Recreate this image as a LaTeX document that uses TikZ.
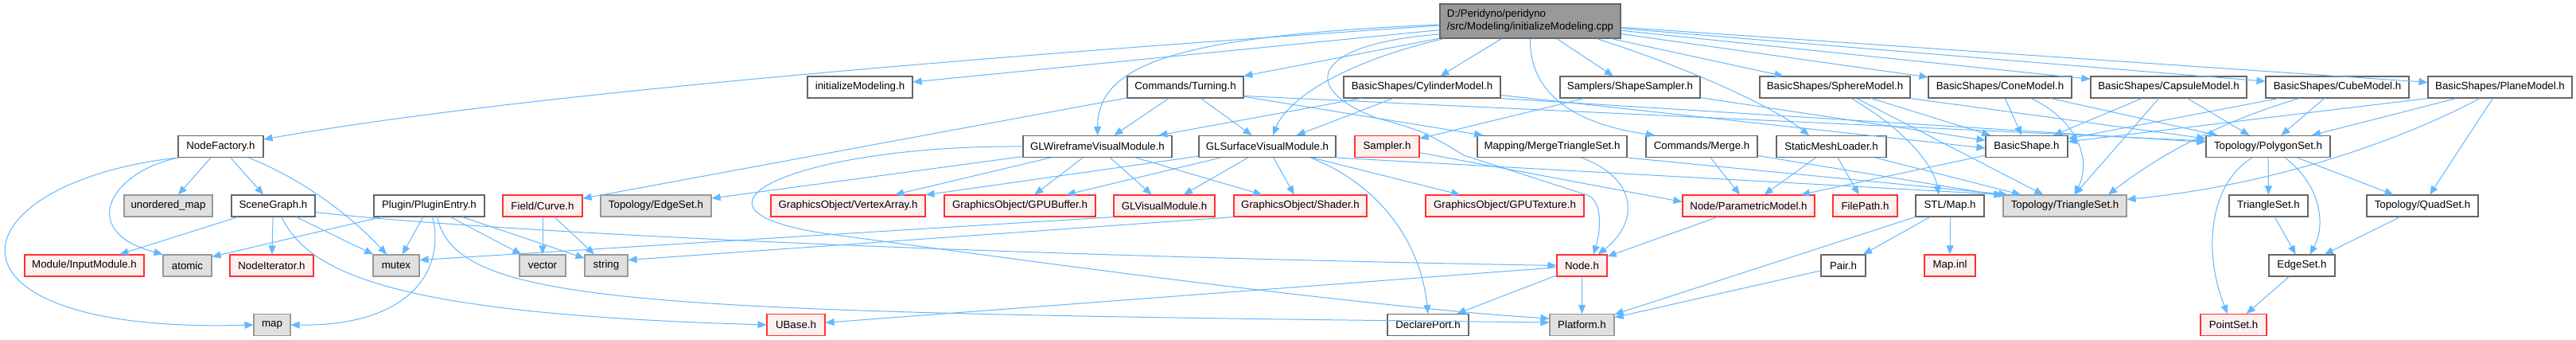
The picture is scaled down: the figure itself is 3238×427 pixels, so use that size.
\documentclass[tikz,border=0pt]{standalone}
\usepackage{fontspec}
\setmainfont{Liberation Sans}
\usetikzlibrary{arrows.meta}
\definecolor{edgeblue}{HTML}{63B8FF}
\definecolor{bord}{HTML}{666666}
\definecolor{graybord}{HTML}{999999}
\definecolor{grayfill}{HTML}{E0E0E0}
\definecolor{redfill}{HTML}{FFF0F0}
\definecolor{redbord}{HTML}{FF3030}
\definecolor{rootfill}{HTML}{999999}
\begin{document}
\begin{tikzpicture}[x=1pt,y=-1pt,
  box/.style={draw=bord, line width=1.1pt, fill=white, minimum height=27pt, inner sep=0pt, font=\fontsize{13.3}{16}\selectfont},
  sysbox/.style={box, draw=graybord, fill=grayfill},
  redbox/.style={box, draw=redbord, fill=redfill},
  rootbox/.style={box, fill=rootfill, minimum height=43pt, align=left},
  dep/.style={draw=edgeblue, line width=1pt, -{Triangle[length=11pt,width=9pt]}}
]
\fill[white] (0,0) rectangle (3238,427);
\useasboundingbox (0,0) rectangle (3238,427);

% root
\node[rootbox, minimum width=227pt] (R) at (1923.5,26.5) {D:/Peridyno/peridyno\\/src/Modeling/initializeModeling.cpp};

% row 1
\node[box, minimum width=132pt] (IM) at (1081,109.5) {initializeModeling.h};
\node[box, minimum width=146pt] (TU) at (1490,109.5) {Commands/Turning.h};
\node[box, minimum width=197pt] (CY) at (1787.5,109.5) {BasicShapes/CylinderModel.h};
\node[box, minimum width=176pt] (SS) at (2049,109.5) {Samplers/ShapeSampler.h};
\node[box, minimum width=189pt] (SP) at (2306.5,109.5) {BasicShapes/SphereModel.h};
\node[box, minimum width=180pt] (CO) at (2514,109.5) {BasicShapes/ConeModel.h};
\node[box, minimum width=196pt] (CA) at (2726,109.5) {BasicShapes/CapsuleModel.h};
\node[box, minimum width=180pt] (CU) at (2938,109.5) {BasicShapes/CubeModel.h};
\node[box, minimum width=181pt] (PL) at (3142.5,109.5) {BasicShapes/PlaneModel.h};

% row 2
\node[box, minimum width=107pt] (NF) at (277.5,184) {NodeFactory.h};
\node[box, minimum width=187pt] (GW) at (1379.5,184) {GLWireframeVisualModule.h};
\node[box, minimum width=172pt] (GS) at (1593,184) {GLSurfaceVisualModule.h};
\node[redbox, minimum width=81pt] (SA) at (1743.5,184) {Sampler.h};
\node[box, minimum width=188pt] (MT) at (1951,184) {Mapping/MergeTriangleSet.h};
\node[box, minimum width=140pt] (ME) at (2139,184) {Commands/Merge.h};
\node[box, minimum width=138pt] (SM) at (2302,184) {StaticMeshLoader.h};
\node[box, minimum width=103pt] (BS) at (2547.5,184) {BasicShape.h};
\node[box, minimum width=156pt] (PS) at (2851,184) {Topology/PolygonSet.h};

% row 3
\node[sysbox, minimum width=111pt] (UM) at (211.5,258.5) {unordered\_map};
\node[box, minimum width=105pt] (SG) at (343.5,258.5) {SceneGraph.h};
\node[box, minimum width=139pt] (PE) at (539.5,258.5) {Plugin/PluginEntry.h};
\node[redbox, minimum width=100pt] (FC) at (682,258.5) {Field/Curve.h};
\node[sysbox, minimum width=139pt] (ES) at (824.5,258.5) {Topology/EdgeSet.h};
\node[redbox, minimum width=194pt] (VA) at (1066,258.5) {GraphicsObject/VertexArray.h};
\node[redbox, minimum width=190pt] (GB) at (1282,258.5) {GraphicsObject/GPUBuffer.h};
\node[redbox, minimum width=127pt] (GV) at (1463.5,258.5) {GLVisualModule.h};
\node[redbox, minimum width=167pt] (SH) at (1634.5,258.5) {GraphicsObject/Shader.h};
\node[redbox, minimum width=199pt] (GT) at (1891.5,258.5) {GraphicsObject/GPUTexture.h};
\node[redbox, minimum width=166pt] (PM) at (2198,258.5) {Node/ParametricModel.h};
\node[redbox, minimum width=81pt] (FP) at (2344.5,258.5) {FilePath.h};
\node[box, minimum width=86pt] (SL) at (2451,258.5) {STL/Map.h};
\node[sysbox, minimum width=155pt] (TS) at (2595.5,258.5) {Topology/TriangleSet.h};
\node[box, minimum width=99pt] (TT) at (2851.5,258.5) {TriangleSet.h};
\node[box, minimum width=140pt] (QS) at (3045,258.5) {Topology/QuadSet.h};

% row 4
\node[redbox, minimum width=150pt] (IN) at (106,333.5) {Module/InputModule.h};
\node[sysbox, minimum width=61pt] (AT) at (235.5,333.5) {atomic};
\node[redbox, minimum width=105pt] (NI) at (341.5,333.5) {NodeIterator.h};
\node[sysbox, minimum width=58pt] (MU) at (498,333.5) {mutex};
\node[sysbox, minimum width=58pt] (VE) at (682,333.5) {vector};
\node[sysbox, minimum width=54pt] (ST) at (762,333.5) {string};
\node[redbox, minimum width=63pt] (NO) at (1988.5,333.5) {Node.h};
\node[box, minimum width=56pt] (PA) at (2317,333.5) {Pair.h};
\node[redbox, minimum width=64pt] (MI) at (2451,333.5) {Map.inl};
\node[box, minimum width=83pt] (EE) at (2893.5,333.5) {EdgeSet.h};

% row 5
\node[sysbox, minimum width=46pt] (MA) at (342,408) {map};
\node[redbox, minimum width=73pt] (UB) at (1000.5,408) {UBase.h};
\node[box, minimum width=102pt] (DP) at (1795,408) {DeclarePort.h};
\node[sysbox, minimum width=81pt] (PF) at (1988.5,408) {Platform.h};
\node[redbox, minimum width=83pt] (PT) at (2807.5,408) {PointSet.h};

% ---- edges from root
\draw[dep] ([yshift=-5.5]R.west) .. controls (1400,60) and (700,110) .. ([yshift=9]NF.east);
\draw[dep] (R) -- (IM);
\draw[dep] ([yshift=-4.5]R.west) .. controls (1480,45) and (1380,80) .. (GW.north);
\draw[dep] (R) -- (TU);
\draw[dep] ([xshift=-108.5]R.south) .. controls (1700,75) and (1620,120) .. ([xshift=7]GS.north);
\draw[dep] ([yshift=-16.5]R.west) .. controls (1650,55) and (1630,110) .. (1730,148) .. controls (1790,165) .. (1840,195) -- (1995,245) .. controls (2015,252) and (2012,290) .. ([xshift=14.5]NO.north);
\draw[dep] (R) -- (CY);
\draw[dep] (R) -- (SS);
\draw[dep] (R.south) .. controls (1922,115) and (1975,155) .. ([xshift=-59]ME.north);
\draw[dep] ([xshift=83.5]R.south) .. controls (2130,88) and (2230,135) .. ([xshift=-28]SM.north);
\draw[dep] (R) -- (SP);
\draw[dep] (R) -- (CO);
\draw[dep] (R) -- (CA);
\draw[dep] (R) -- (CU);
\draw[dep] (R) -- (PL);

% ---- NodeFactory
\draw[dep] (NF) -- (UM);
\draw[dep] (NF) -- (SG);
\draw[dep] (NF.south west) .. controls (-60,230) and (-100,420) .. (MA.west);
\draw[dep] ([xshift=1]NF.south west) .. controls (140,215) and (95,290) .. (AT.north west);
\draw[dep] ([xshift=35]NF.south) .. controls (380,225) and (440,270) .. ([xshift=-12]MU.north);

% ---- SceneGraph
\draw[dep] (SG) -- (IN);
\draw[dep] (SG) -- (NI);
\draw[dep] (SG) -- (MU);
\draw[dep] ([yshift=-8]SG.east) .. controls (600,290) and (1200,320) .. (NO.west);
\draw[dep] ([xshift=10.5]SG.south) .. controls (390,350) and (520,395) .. (UB.west);

% ---- PluginEntry
\draw[dep] ([xshift=-60]PE.south) -- ([yshift=11]AT.east);
\draw[dep] (PE) -- (MU);
\draw[dep] (PE) -- (VE);
\draw[dep] (PE) -- (ST);
\draw[dep] ([xshift=4]PE.south) .. controls (560,335) and (520,410) .. (MA.east);
\draw[dep] ([xshift=10]PE.south) .. controls (575,385) and (800,392) .. ([yshift=3]PF.west);

% ---- Field/Curve
\draw[dep] (FC) -- (VE);
\draw[dep] (FC) -- (ST);

% ---- Turning
\draw[dep] (TU) -- (FC);
\draw[dep] (TU) -- (GW);
\draw[dep] (TU) -- (GS);
\draw[dep] (TU) -- (MT);
\draw[dep] ([yshift=-11]TU.east) -- ([yshift=7]PS.west);

% ---- GLWireframe
\draw[dep] (GW) -- (ES);
\draw[dep] (GW) -- (VA);
\draw[dep] (GW) -- (GB);
\draw[dep] (GW) -- (GV);
\draw[dep] (GW) -- (SH);
\draw[dep] (GW.west) .. controls (1000,182) and (820,265) .. (1050,295) .. controls (1200,315) and (1700,385) .. ([yshift=8]PF.west);

% ---- GLSurface
\draw[dep] (GS) -- (VA);
\draw[dep] (GS) -- (GB);
\draw[dep] (GS) -- (GV);
\draw[dep] (GS) -- (SH);
\draw[dep] (GS) -- (GT);
\draw[dep] ([xshift=54]GS.south) .. controls (1730,230) and (1785,300) .. (DP.north);
\draw[dep] (GS.south east) -- (TS.north west);

% ---- Sampler, ShapeSampler, Cylinder
\draw[dep] (SA) -- ([yshift=5]PM.west);
\draw[dep] (SS) -- (SA);
\draw[dep] (SS) -- (BS);
\draw[dep] (CY) -- (GW);
\draw[dep] (CY) -- (GS);
\draw[dep] ([yshift=-10]CY.east) -- ([yshift=-2]BS.west);
\draw[dep] (CY.south east) -- ([yshift=5.5]PS.west);

% ---- Merge, MergeTriangleSet, StaticMeshLoader, BasicShape
\draw[dep] (ME) -- (PM);
\draw[dep] (ME) -- (TS);
\draw[dep] ([xshift=37]MT.south) .. controls (2060,225) and (2060,280) .. ([xshift=20]NO.north);
\draw[dep] (MT.south east) -- ([xshift=6]TS.north west);
\draw[dep] (SM) -- (PM);
\draw[dep] (SM) -- (FP);
\draw[dep] (SM) -- (TS);
\draw[dep] (BS) -- (PM);

% ---- Shapes
\draw[dep] (SP) -- (BS);
\draw[dep] (SP) -- (TS);
\draw[dep] ([xshift=20.5]SP.south) .. controls (2390,160) and (2430,205) .. ([xshift=-14]SL.north);
\draw[dep] (SP.south east) -- ([yshift=10]PS.west);
\draw[dep] (CO) -- (BS);
\draw[dep] (CO) -- (PS);
\draw[dep] ([xshift=39]CO.south) .. controls (2610,150) and (2630,200) .. ([xshift=12]TS.north);
\draw[dep] (CA) -- (BS);
\draw[dep] (CA) -- (TS);
\draw[dep] (CA) -- (PS);
\draw[dep] (CU) -- (BS);
\draw[dep] (CU) -- (PS);
\draw[dep] ([xshift=-48]CU.south) .. controls (2800,150) and (2720,190) .. ([xshift=54.5]TS.north);
\draw[dep] (PL) -- (PS);
\draw[dep] (PL) -- (QS);
\draw[dep] (PL.south west) -- ([yshift=6]BS.east);
\draw[dep] ([xshift=-25.5]PL.south) .. controls (3040,165) and (2880,230) .. ([yshift=8]TS.east);

% ---- Topology
\draw[dep] (PS) -- (TT);
\draw[dep] (PS) -- (QS);
\draw[dep] ([xshift=21]PS.south) .. controls (2915,230) and (2925,280) .. ([xshift=10]EE.north);
\draw[dep] ([xshift=-20]PS.south) .. controls (2775,232) and (2770,320) .. ([xshift=-7.5]PT.north);
\draw[dep] (TT) -- (EE);
\draw[dep] (QS) -- (EE);
\draw[dep] (EE) -- (PT);

% ---- STL / Node
\draw[dep] (SL) -- (PA);
\draw[dep] (SL) -- (MI);
\draw[dep] (SL) -- (PF);
\draw[dep] (PA) -- (PF);
\draw[dep] (PM) -- (NO);
\draw[dep] (NO) -- (PF);
\draw[dep] (NO) -- (DP);
\draw[dep] (NO) -- (UB);
\draw[dep] (GV.south west) -- ([yshift=7]MU.east);
\draw[dep] (SH.south west) -- ([yshift=7]ST.east);
\end{tikzpicture}
\end{document}
